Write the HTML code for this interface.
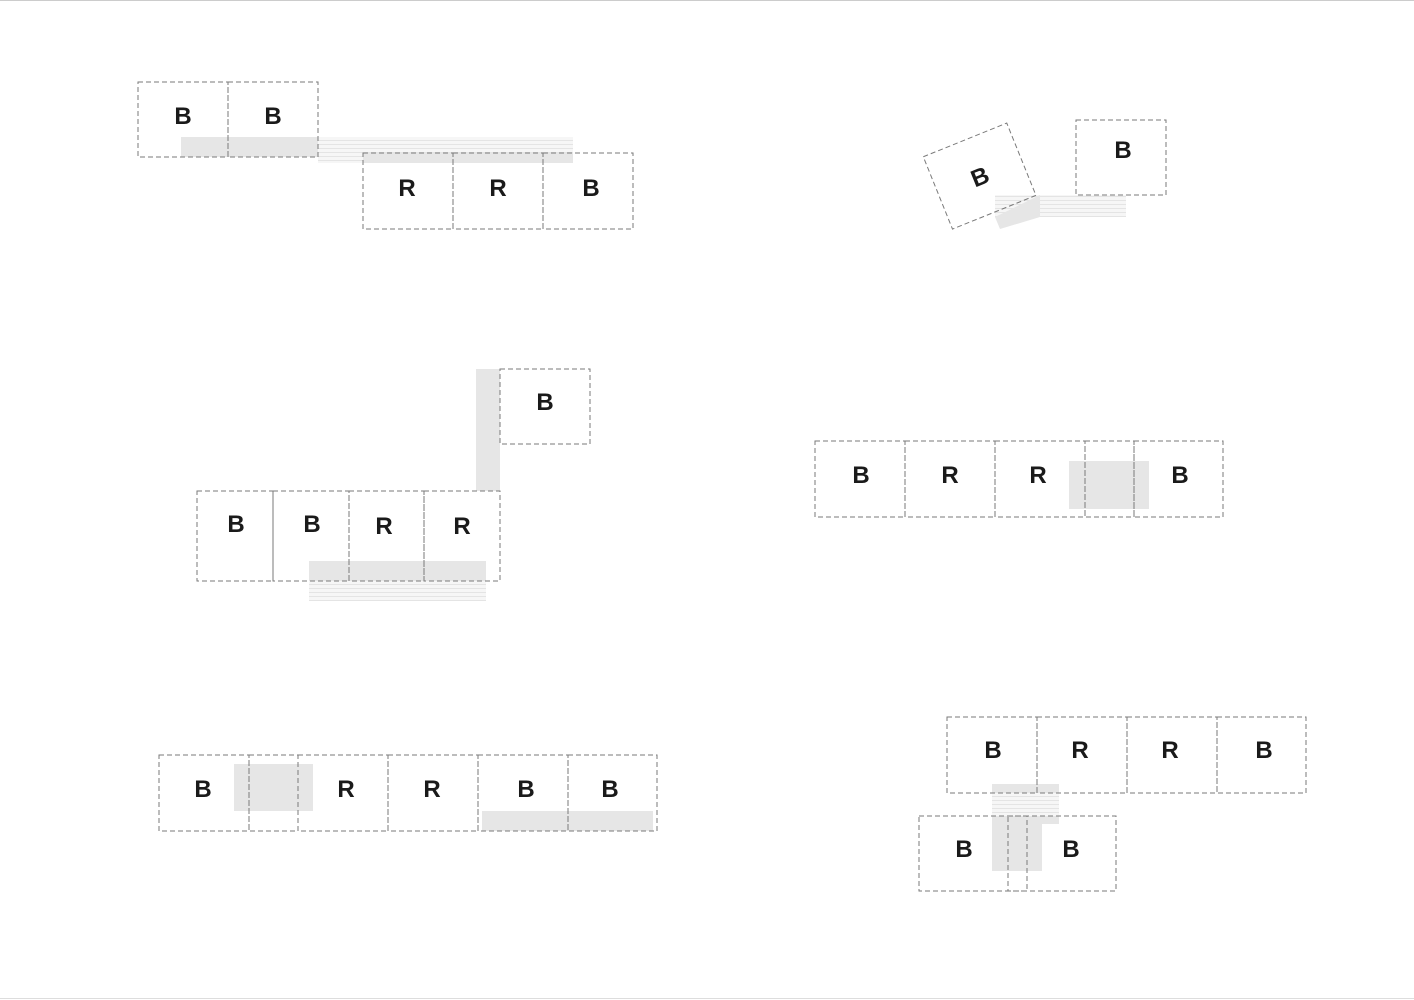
<!DOCTYPE html><html><head><style>body{margin:0;background:#fff}svg{display:block}text{font-family:"Liberation Sans",sans-serif;font-weight:bold;font-size:24px;fill:#1a1a1a;text-anchor:middle}</style></head><body>
<svg width="1414" height="1000" viewBox="0 0 1414 1000">
<defs><pattern id="st" width="6" height="4" patternUnits="userSpaceOnUse"><rect width="6" height="4" fill="#f6f6f6"/><rect width="6" height="1" fill="#e4e4e4"/></pattern></defs>
<line x1="0" y1="0.5" x2="1414" y2="0.5" stroke="#ccc"/>
<line x1="0" y1="998.5" x2="1414" y2="998.5" stroke="#ddd"/>
<g fill="#e6e6e6">
<rect x="181" y="137" width="137" height="20"/>
<rect x="318" y="137" width="255" height="26" fill="url(#st)"/>
<rect x="363" y="153" width="210" height="10"/>
<rect x="995" y="195" width="131" height="22" fill="url(#st)"/>
<polygon points="995,217 1040,195 1040,217 1000,229" fill="#e6e6e6"/>
<rect x="476" y="369" width="24" height="122"/>
<rect x="309" y="561" width="177" height="20"/>
<rect x="309" y="581" width="177" height="20" fill="url(#st)"/>
<rect x="1069" y="461" width="80" height="48"/>
<rect x="234" y="764" width="79" height="47"/>
<rect x="482" y="811" width="171" height="20"/>
<rect x="992" y="784" width="67" height="9"/>
<rect x="992" y="793" width="67" height="31" fill="url(#st)"/>
<rect x="992" y="816" width="50" height="55"/>
<rect x="1042" y="816" width="17" height="8"/>
</g>
<g fill="none" stroke="#7a7a7a" stroke-dasharray="5,3" stroke-width="1">
<rect x="138" y="82" width="90" height="75"/><rect x="228" y="82" width="90" height="75"/>
<rect x="363" y="153" width="90" height="76"/><rect x="453" y="153" width="90" height="76"/><rect x="543" y="153" width="90" height="76"/>
<rect x="935" y="137" width="90" height="78" transform="rotate(-22 980 177)"/>
<rect x="1076" y="120" width="90" height="75"/>
<rect x="500" y="369" width="90" height="75"/>
<rect x="197" y="491" width="76" height="90"/><rect x="273" y="491" width="76" height="90"/><rect x="349" y="491" width="75" height="90"/><rect x="424" y="491" width="76" height="90"/>
<rect x="815" y="441" width="90" height="76"/><rect x="905" y="441" width="90" height="76"/><rect x="995" y="441" width="90" height="76"/><rect x="1085" y="441" width="49" height="76"/><rect x="1134" y="441" width="89" height="76"/>
<rect x="159" y="755" width="90" height="76"/><rect x="249" y="755" width="49" height="76"/><rect x="298" y="755" width="90" height="76"/><rect x="388" y="755" width="90" height="76"/><rect x="478" y="755" width="90" height="76"/><rect x="568" y="755" width="89" height="76"/>
<rect x="947" y="717" width="90" height="76"/><rect x="1037" y="717" width="90" height="76"/><rect x="1127" y="717" width="90" height="76"/><rect x="1217" y="717" width="89" height="76"/>
<rect x="919" y="816" width="108" height="75"/><rect x="1008" y="816" width="108" height="75"/>
</g>
<text x="183" y="124">B</text><text x="273" y="124">B</text>
<text x="407" y="196">R</text><text x="498" y="196">R</text><text x="591" y="196">B</text>
<text x="980" y="185" transform="rotate(-22 980 177)">B</text><text x="1123" y="158">B</text>
<text x="545" y="410">B</text>
<text x="236" y="532">B</text><text x="312" y="532">B</text><text x="384" y="534">R</text><text x="462" y="534">R</text>
<text x="861" y="483">B</text><text x="950" y="483">R</text><text x="1038" y="483">R</text><text x="1180" y="483">B</text>
<text x="203" y="797">B</text><text x="346" y="797">R</text><text x="432" y="797">R</text><text x="526" y="797">B</text><text x="610" y="797">B</text>
<text x="993" y="758">B</text><text x="1080" y="758">R</text><text x="1170" y="758">R</text><text x="1264" y="758">B</text>
<text x="964" y="857">B</text><text x="1071" y="857">B</text>
</svg></body></html>
